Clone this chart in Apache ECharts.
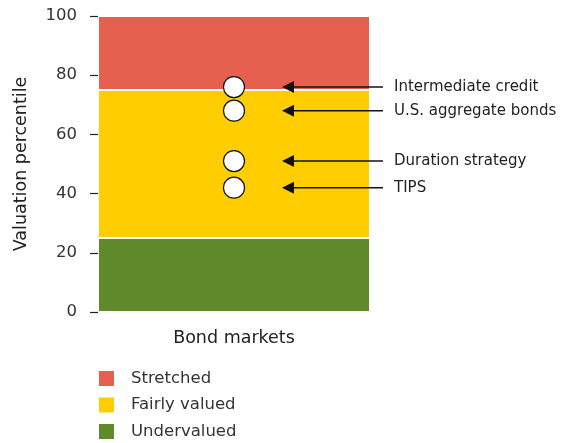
<!DOCTYPE html>
<html>
<head>
<meta charset="utf-8">
<script src="https://cdn.jsdelivr.net/npm/echarts@6/dist/echarts.min.js"></script>
<style>
  html, body { margin: 0; padding: 0; background: #fff; }
  #chart { width: 572px; height: 443px; }
</style>
</head>
<body>
<div id="chart"></div>
<script>
// Valuation bands (percentile ranges, stacked bottom to top)
const categories = ['Bond markets'];
const bandNames = ['Undervalued', 'Fairly valued', 'Stretched'];
const bandSizes = [25, 50, 25];
const bandColors = ['#5E8A2A', '#FFCD00', '#E5604F'];
const legendOrder = ['Stretched', 'Fairly valued', 'Undervalued'];

// Current valuation percentile of each bond segment
const assetNames = ['Intermediate credit', 'U.S. aggregate bonds', 'Duration strategy', 'TIPS'];
const assetValues = [76, 68, 51, 42];

const yTicks = { min: 0, max: 100, interval: 20 };
const FONT = '"DejaVu Sans", sans-serif';

const chart = echarts.init(document.getElementById('chart'), null, { renderer: 'canvas' });

const bandSeries = bandNames.map((name, i) => ({
  name,
  type: 'bar',
  stack: 'bands',
  barWidth: '100%',
  data: [bandSizes[i]],
  itemStyle: { color: bandColors[i], borderColor: '#fff', borderWidth: 1 },
  emphasis: { disabled: true },
  silent: true,
  z: 1
}));

// Arrow + label pointing back at each marker
const arrowSeries = {
  type: 'custom',
  coordinateSystem: 'cartesian2d',
  clip: false,
  silent: true,
  z: 5,
  data: assetValues.map((v, i) => [0, v, i]),
  renderItem(params, api) {
    const p = api.coord([api.value(0), api.value(1)]);
    const y = p[1];
    const tip = p[0] + 48;
    const tail = p[0] + 149;
    return {
      type: 'group',
      children: [
        { type: 'line', shape: { x1: tip + 8, y1: y, x2: tail, y2: y },
          style: { stroke: '#111', lineWidth: 1.6 } },
        { type: 'polygon', shape: { points: [[tip, y], [tip + 12, y - 6], [tip + 12, y + 6]] },
          style: { fill: '#111' } },
        { type: 'text', x: p[0] + 160, y: y,
          style: { text: assetNames[api.value(2)], fill: '#222', font: '15px ' + FONT,
                   verticalAlign: 'middle', align: 'left' } }
      ]
    };
  }
};

const markerSeries = {
  type: 'scatter',
  data: assetValues.map(v => [0, v]),
  symbol: 'circle',
  symbolSize: 21,
  itemStyle: { color: '#fff', opacity: 1, borderColor: '#111', borderWidth: 1.2 },
  silent: true,
  z: 6
};

// One legend block per entry so the column keeps an even pitch
const legendTops = [369, 395.5, 422];
const legends = legendOrder.map((name, i) => ({
  data: [name],
  left: 97, top: legendTops[i],
  itemWidth: 17, itemHeight: 17,
  icon: 'rect',
  selectedMode: false,
  padding: 0,
  textStyle: { fontSize: 16.5, color: '#333', padding: [0, 0, 0, 11], fontFamily: FONT }
}));

chart.setOption({
  animation: false,
  textStyle: { fontFamily: FONT },
  grid: { left: 98, right: 202, top: 16, bottom: 131, containLabel: false },
  legend: legends,
  xAxis: {
    type: 'category',
    data: categories,
    axisLine: { show: false },
    axisTick: { show: false },
    axisLabel: { fontSize: 17.5, color: '#222', margin: 17, fontFamily: FONT }
  },
  yAxis: {
    type: 'value',
    min: yTicks.min, max: yTicks.max, interval: yTicks.interval,
    name: 'Valuation percentile',
    nameLocation: 'middle',
    nameGap: 68,
    nameRotate: 90,
    nameTextStyle: { fontSize: 17.5, color: '#222', fontFamily: FONT },
    axisLine: { show: false },
    axisTick: { show: true, length: 8, lineStyle: { color: '#222', width: 1.2 } },
    splitLine: { show: false },
    axisLabel: { fontSize: 16.5, color: '#333', margin: 21, fontFamily: FONT }
  },
  series: [...bandSeries, markerSeries, arrowSeries]
});
</script>
</body>
</html>
